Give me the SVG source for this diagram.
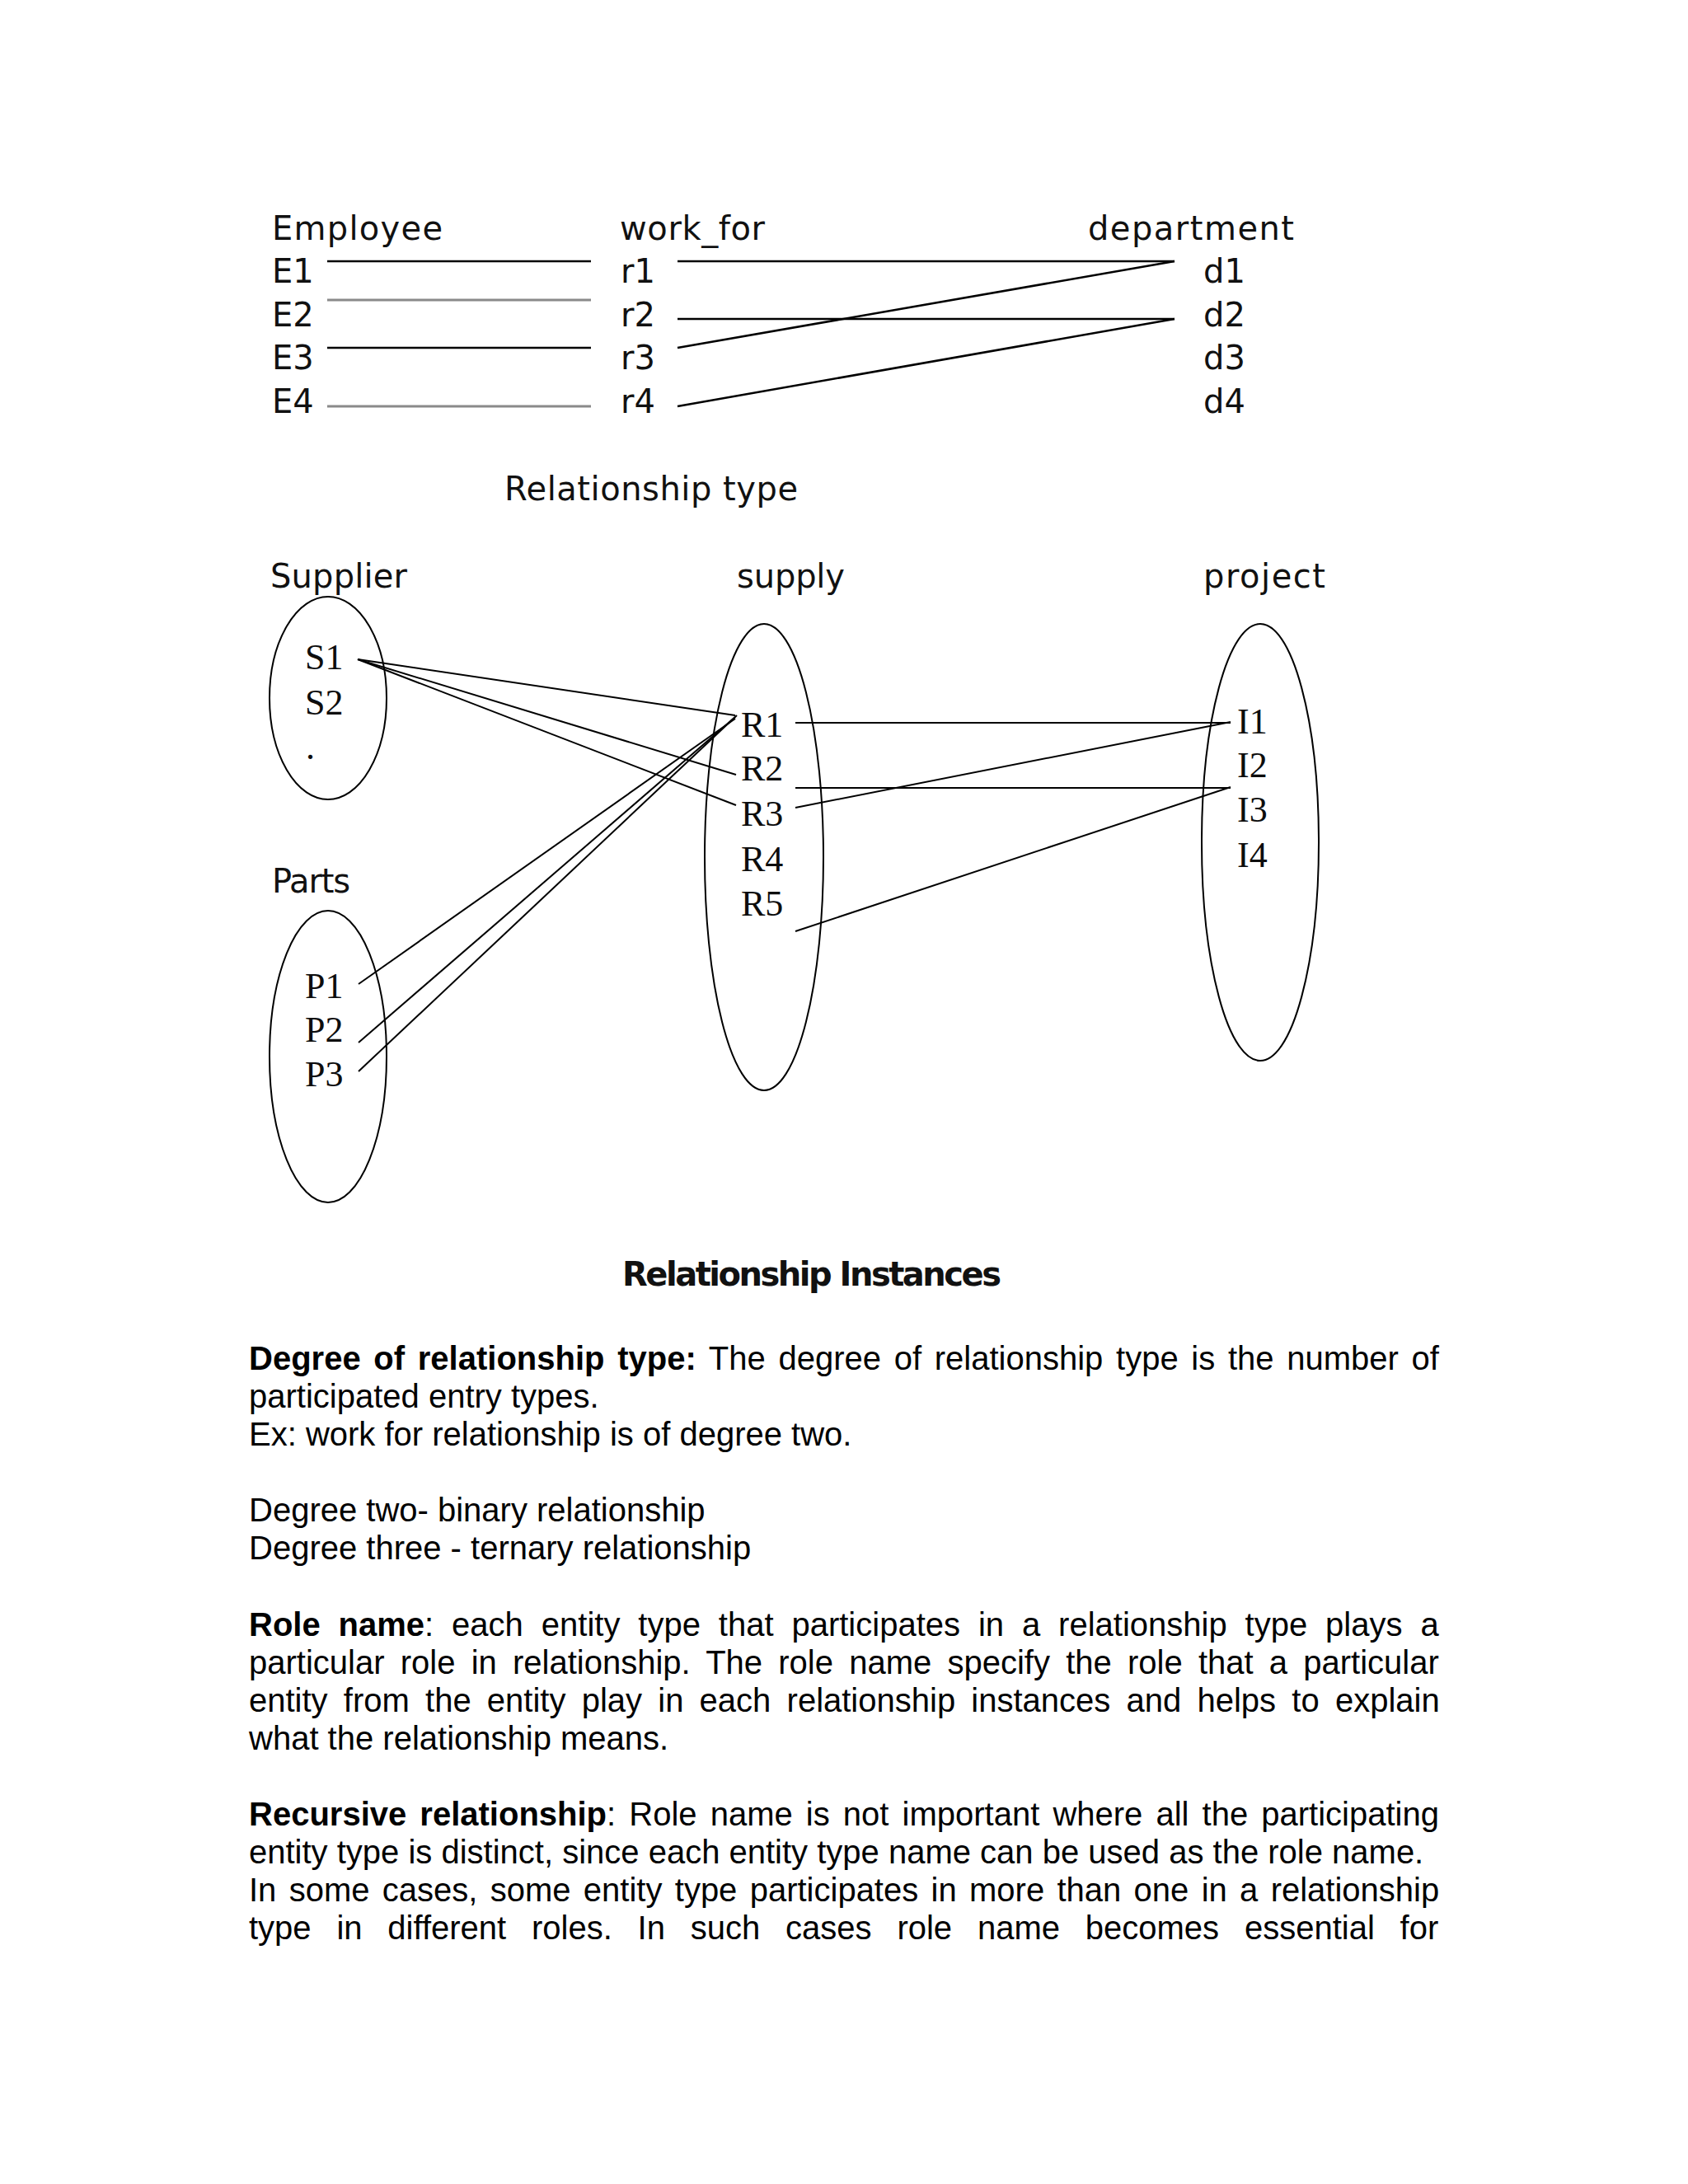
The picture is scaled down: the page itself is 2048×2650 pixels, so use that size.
<svg xmlns="http://www.w3.org/2000/svg" width="2048" height="2650" viewBox="0 0 2048 2650">
<style>
.g{font-family:"DejaVu Sans","Liberation Sans",sans-serif;font-size:40px;fill:#111}
.t{font-family:"Liberation Serif","Times New Roman",serif;font-size:44px;fill:#0d0d0d}
.b{font-family:"Liberation Sans",Arial,sans-serif;font-size:40px;fill:#000}
.bb{font-weight:bold}
.ln{stroke:#000;stroke-width:2.6;fill:none}
.lg{stroke:#8a8a8a;stroke-width:3;fill:none}
.ls{stroke:#000;stroke-width:2;fill:none}
.el{stroke:#000;stroke-width:2;fill:none}
</style>
<rect width="2048" height="2650" fill="#fff"/>

<g id="connectors">
  <line class="ln" x1="397" y1="317" x2="717" y2="317"/>
  <line class="lg" x1="397" y1="364" x2="717" y2="364"/>
  <line class="ln" x1="397" y1="422" x2="717" y2="422"/>
  <line class="lg" x1="397" y1="493" x2="717" y2="493"/>
  <line class="ln" x1="822" y1="317" x2="1425" y2="317"/>
  <line class="ln" x1="822" y1="387" x2="1425" y2="387"/>
  <line class="ln" x1="822" y1="422" x2="1425" y2="317"/>
  <line class="ln" x1="822" y1="493" x2="1425" y2="387"/>

  <line class="ls" x1="434" y1="800" x2="892" y2="868"/>
  <line class="ls" x1="434" y1="800" x2="893" y2="940"/>
  <line class="ls" x1="434" y1="800" x2="893" y2="977"/>
  <line class="ls" x1="435" y1="1194" x2="892" y2="872"/>
  <line class="ls" x1="435" y1="1265" x2="892" y2="870"/>
  <line class="ls" x1="435" y1="1300" x2="894" y2="868"/>
  <line class="ls" x1="965" y1="877" x2="1493" y2="877"/>
  <line class="ls" x1="965" y1="956" x2="1493" y2="956" stroke="#444"/>
  <line class="ls" x1="965" y1="980" x2="1493" y2="876"/>
  <line class="ls" x1="965" y1="1130" x2="1493" y2="955"/>
</g>

<g id="employee">
  <text class="g" x="330" y="291" textLength="207">Employee</text>
  <text class="g" x="330" y="343">E1</text>
  <text class="g" x="330" y="396">E2</text>
  <text class="g" x="330" y="448">E3</text>
  <text class="g" x="330" y="501">E4</text>
</g>
<g id="work_for">
  <text class="g" x="752" y="291" textLength="176">work_for</text>
  <text class="g" x="753" y="343">r1</text>
  <text class="g" x="753" y="396">r2</text>
  <text class="g" x="753" y="448">r3</text>
  <text class="g" x="753" y="501">r4</text>
</g>
<g id="department">
  <text class="g" x="1320" y="291" textLength="250">department</text>
  <text class="g" x="1460" y="343">d1</text>
  <text class="g" x="1460" y="396">d2</text>
  <text class="g" x="1460" y="448">d3</text>
  <text class="g" x="1460" y="501">d4</text>
</g>
<g id="caption-type">
  <text class="g" x="612" y="607" textLength="356">Relationship type</text>
</g>

<g id="supplier">
  <text class="g" x="328" y="713" textLength="166">Supplier</text>
  <ellipse class="el" cx="398" cy="847" rx="71" ry="123"/>
  <text class="t" x="370" y="812">S1</text>
  <text class="t" x="370" y="867">S2</text>
  <text class="t" x="371" y="921">.</text>
</g>
<g id="parts">
  <text class="g" x="330" y="1083" textLength="95">Parts</text>
  <ellipse class="el" cx="398" cy="1282" rx="71" ry="177"/>
  <text class="t" x="370" y="1211">P1</text>
  <text class="t" x="370" y="1264">P2</text>
  <text class="t" x="370" y="1318">P3</text>
</g>
<g id="supply">
  <text class="g" x="894" y="713" textLength="131">supply</text>
  <ellipse class="el" cx="927" cy="1040" rx="72" ry="283"/>
  <text class="t" x="899" y="894">R1</text>
  <text class="t" x="899" y="947">R2</text>
  <text class="t" x="899" y="1002">R3</text>
  <text class="t" x="899" y="1057">R4</text>
  <text class="t" x="899" y="1111">R5</text>
</g>
<g id="project">
  <text class="g" x="1460" y="713" textLength="148">project</text>
  <ellipse class="el" cx="1529" cy="1022" rx="71" ry="265"/>
  <text class="t" x="1501" y="890">I1</text>
  <text class="t" x="1501" y="943">I2</text>
  <text class="t" x="1501" y="997">I3</text>
  <text class="t" x="1501" y="1052">I4</text>
</g>
<g id="caption-instances">
  <text class="g bb" x="755" y="1560" font-size="36" textLength="460">Relationship Instances</text>
</g>

<g id="body-text">
  <text class="b" x="302" y="1662" word-spacing="4.6"><tspan class="bb">Degree of relationship type:</tspan> The degree of relationship type is the number of</text>
  <text class="b" x="302" y="1708">participated entry types.</text>
  <text class="b" x="302" y="1754">Ex: work for relationship is of degree two.</text>
  <text class="b" x="302" y="1846">Degree two- binary relationship</text>
  <text class="b" x="302" y="1892">Degree three - ternary relationship</text>

  <text class="b" x="302" y="1985" word-spacing="10.8"><tspan class="bb">Role name</tspan>: each entity type that participates in a relationship type plays a</text>
  <text class="b" x="302" y="2031" word-spacing="8.1">particular role in relationship. The role name specify the role that a particular</text>
  <text class="b" x="302" y="2077" word-spacing="8.1">entity from the entity play in each relationship instances and helps to explain</text>
  <text class="b" x="302" y="2123">what the relationship means.</text>

  <text class="b" x="302" y="2215" word-spacing="5.0"><tspan class="bb">Recursive relationship</tspan>: Role name is not important where all the participating</text>
  <text class="b" x="302" y="2261">entity type is distinct, since each entity type name can be used as the role name.</text>
  <text class="b" x="302" y="2307" word-spacing="4.2">In some cases, some entity type participates in more than one in a relationship</text>
  <text class="b" x="302" y="2353" word-spacing="19.7">type in different roles. In such cases role name becomes essential for</text>
</g>
</svg>
